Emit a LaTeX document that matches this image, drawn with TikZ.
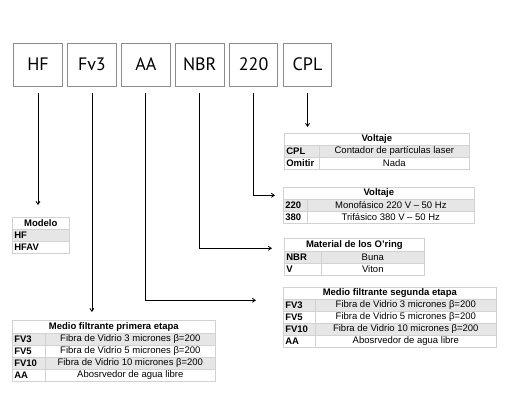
\documentclass[tikz,border=0pt]{standalone}
\usepackage{fontspec}
\setmainfont{Liberation Sans}
\newfontfamily\boxfont{PT Sans}
\usetikzlibrary{positioning,arrows.meta}
\newcommand{\tabfont}{\fontsize{9.5}{10}\selectfont}
\definecolor{tblline}{HTML}{D2D2D2}
\definecolor{rowgray}{HTML}{E6E6E6}
\definecolor{boxline}{HTML}{8C8C8C}
\tikzset{
	code/.style={draw=boxline, line width=0.9pt, minimum width=48.5pt, minimum height=43pt, inner sep=0pt, font=\boxfont\fontsize{18}{20}\selectfont},
	conn/.style={line width=0.8pt, -{Straight Barb[length=3pt,width=4pt]}},
	cell/.style={draw=tblline, line width=0.6pt, inner sep=0pt, anchor=north west, minimum height=12pt, font=\tabfont},
	hcell/.style={cell, font=\tabfont\bfseries, minimum width=#1},
	kcell/.style={cell, font=\tabfont\bfseries, align=left, inner xsep=2pt, text width=#1},
	dcell/.style={cell, minimum width=#1}
}
\begin{document}
\begin{tikzpicture}[x=1pt,y=-1pt]
	\useasboundingbox (0,0) rectangle (521,401);
	% codigo
	\node[code] (hf) at (38,64.5) {HF};
	\node[code, right=4.5pt of hf] (fv) {Fv3};
	\node[code, right=4.5pt of fv] (aa) {AA};
	\node[code, right=4.5pt of aa] (nbr) {NBR};
	\node[code, right=4.5pt of nbr] (volt) {220};
	\node[code, right=4.5pt of volt] (cpl) {CPL};

	% Voltaje (CPL)
	\node[hcell=185pt] (cplH) at (284,133) {Voltaje};
	\node[kcell=31pt, fill=rowgray] (cplK1) at (284,145) {CPL};
	\node[dcell=150pt, fill=rowgray] (cplD1) at (319,145) {Contador de partículas laser};
	\node[kcell=31pt] (cplK2) at (284,157) {Omitir};
	\node[dcell=150pt] (cplD2) at (319,157) {Nada};

	% Voltaje (220)
	\node[hcell=191pt] (voltH) at (283,187) {Voltaje};
	\node[kcell=20pt, fill=rowgray] (voltK1) at (283,199) {220};
	\node[dcell=167pt, fill=rowgray] (voltD1) at (307,199) {Monofásico 220 V – 50 Hz};
	\node[kcell=20pt] (voltK2) at (283,211) {380};
	\node[dcell=167pt] (voltD2) at (307,211) {Trifásico 380 V – 50 Hz};

	% O'ring
	\node[hcell=140pt, minimum height=13pt] (nbrH) at (284,238) {Material de los O’ring};
	\node[kcell=33pt, fill=rowgray] (nbrK1) at (284,251) {NBR};
	\node[dcell=103pt, fill=rowgray] (nbrD1) at (321,251) {Buna};
	\node[kcell=33pt] (nbrK2) at (284,263) {V};
	\node[dcell=103pt] (nbrD2) at (321,263) {Viton};

	% Modelo
	\node[hcell=57pt] (hfH) at (12,217) {Modelo};
	\node[kcell=53pt, fill=rowgray] (hfK1) at (12,229) {HF};
	\node[kcell=53pt] (hfK2) at (12,241) {HFAV};

	% primera etapa
	\node[hcell=203pt, minimum height=13pt] (fvH) at (12,320) {Medio filtrante primera etapa};
	\foreach \k/\d/\c [count=\i] in {FV3/Fibra de Vidrio 3 micrones β=200/rowgray,
		FV5/Fibra de Vidrio 5 micrones β=200/white,
		FV10/Fibra de Vidrio 10 micrones β=200/rowgray,
		AA/Abosrvedor de agua libre/white}{
		\node[kcell=29pt, fill=\c] (fvK\i) at (12,{333+12*(\i-1)}) {\k};
		\node[dcell=170pt, fill=\c] (fvD\i) at (45,{333+12*(\i-1)}) {\d};
	}

	% segunda etapa
	\node[hcell=213pt] (aaH) at (283,287) {Medio filtrante segunda etapa};
	\foreach \k/\d/\c [count=\i] in {FV3/Fibra de Vidrio 3 micrones β=200/rowgray,
		FV5/Fibra de Vidrio 5 micrones β=200/white,
		FV10/Fibra de Vidrio 10 micrones β=200/rowgray,
		AA/Abosrvedor de agua libre/white}{
		\node[kcell=28pt, fill=\c] (aaK\i) at (283,{299+12*(\i-1)}) {\k};
		\node[dcell=181pt, fill=\c] (aaD\i) at (315,{299+12*(\i-1)}) {\d};
	}

	% flechas
	\draw[conn, shorten <=7pt, shorten >=12pt] (hf.south) -- (hf.south |- hfH.north);
	\draw[conn, shorten <=7pt, shorten >=8pt] (fv.south) -- (fv.south |- fvH.north);
	\draw[conn, shorten <=7pt, shorten >=6pt] (cpl.south) -- (cpl.south |- cplH.north);
	\draw[conn, shorten <=7pt, shorten >=8pt] (volt.south) |- ([yshift=-2pt]voltH.west);
	\draw[conn, shorten <=7pt, shorten >=12pt] (nbr.south) |- ([yshift=-3.5pt]nbrH.west);
	\draw[conn, shorten <=7pt, shorten >=27pt] (aa.south) |- ([yshift=-7pt]aaH.west);
\end{tikzpicture}
\end{document}
